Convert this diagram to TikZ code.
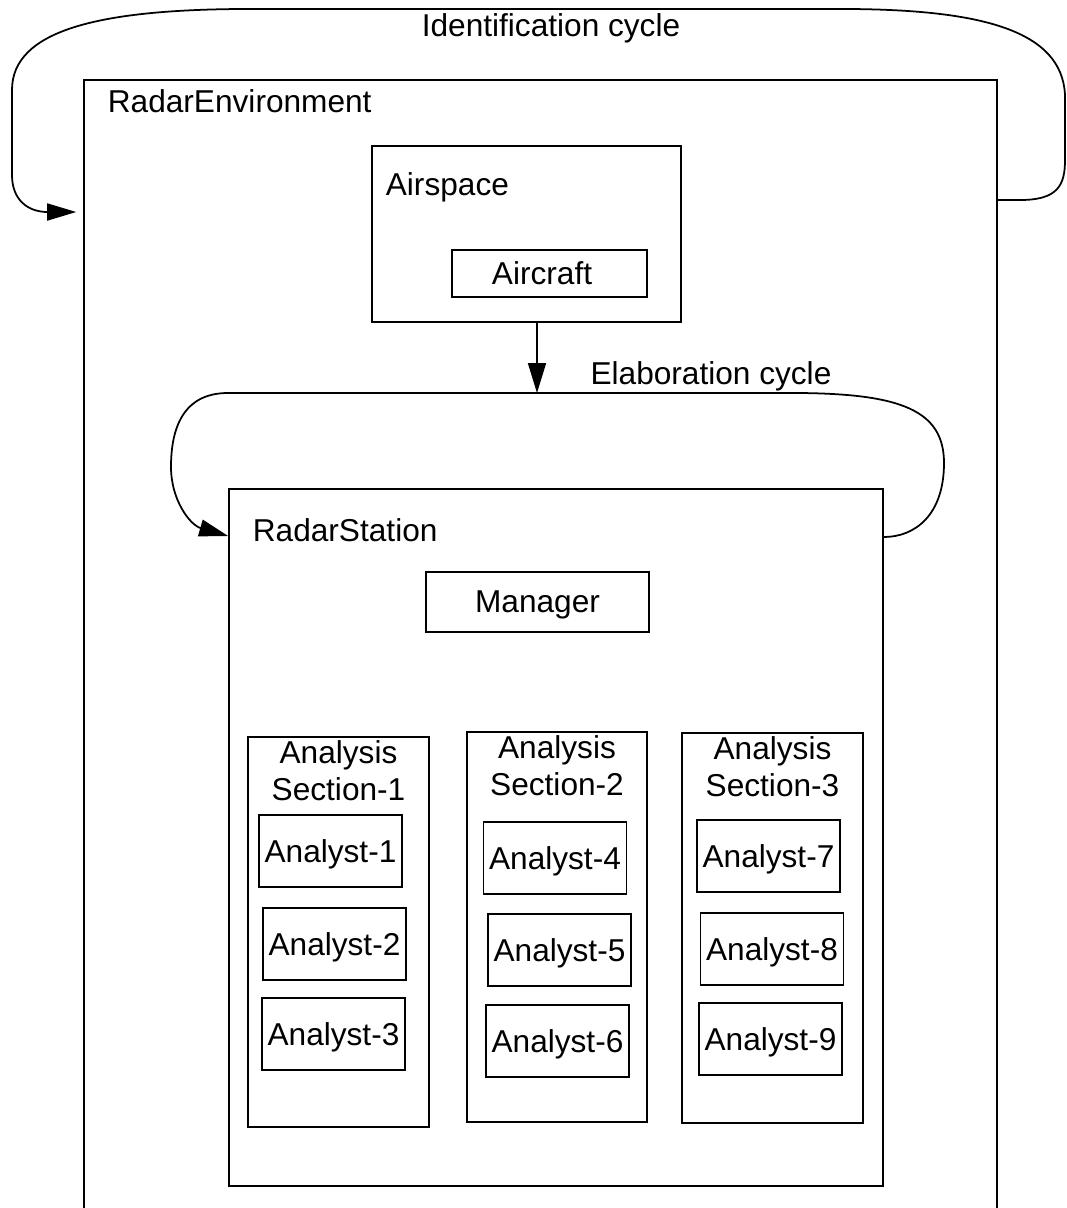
\documentclass[tikz,border=0pt]{standalone}
\usepackage{fontspec}
\setmainfont{Liberation Sans}
\usetikzlibrary{arrows.meta,calc}

\begin{document}
\begin{tikzpicture}
		[x=0.02cm,y=-0.02cm,line width=1pt,
		%Styles
		box/.style={draw,rectangle,inner sep=0pt,text depth=0pt,font=\fontsize{18}{21}\selectfont},
		analyst box/.style={box,minimum width=2.86cm,minimum height=1.44cm},
		section box/.style={box,minimum width=3.61cm,minimum height=7.8cm},
		box title/.style={anchor=west,inner sep=0pt,font=\fontsize{18}{21}\selectfont},
		section title/.style={anchor=north,align=center,inner sep=2pt,font=\fontsize{18}{21}\selectfont},
		cycle text/.style={inner sep=0pt,font=\fontsize{18}{21}\selectfont},
		cycle line/.style={-{Triangle[length=0.58cm,width=0.34cm]}}
		]
		
		%Frame
		\clip (0,0) rectangle (1066,1208);
		
		%The outer boxes
		\node[box,minimum width=18.26cm,minimum height=23.2cm] (env) at (540.5,660) {};
		\node[box title] (envtitle) at (107,101) {RadarEnvironment};
		\node[box,minimum width=6.18cm,minimum height=3.52cm] (airspace) at (526.5,234) {};
		\node[box title] (airtitle) at (385,187) {Airspace};
		\node[box,minimum width=3.9cm,minimum height=0.94cm] (aircraft) at (549.5,273.5) {\hspace*{-0.3cm}Aircraft};
		\node[box,minimum width=13.08cm,minimum height=13.94cm] (station) at (556,837.5) {};
		\node[box title] (stationtitle) at (252,530) {RadarStation};
		\node[box,minimum width=4.46cm,minimum height=1.2cm] (manager) at (537.5,602) {Manager};
		
		%Sections
		\node[section box] (s1) at (338.5,932) {};
		\node[section box] (s2) at (557,927) {};
		\node[section box] (s3) at (772.5,928) {};
		\node[section title] (s1title) at (s1.north) {Analysis\\Section-1};
		\node[section title] (s2title) at (s2.north) {Analysis\\Section-2};
		\node[section title] (s3title) at (s3.north) {Analysis\\Section-3};
		
		%Analysts
		\node[analyst box] (a1) at (330.5,851) {Analyst-1};
		\node[analyst box] (a2) at (334.5,944) {Analyst-2};
		\node[analyst box] (a3) at (333.5,1034) {Analyst-3};
		\node[analyst box] (a4) at (555,858) {Analyst-4};
		\node[analyst box] (a5) at (559.5,950) {Analyst-5};
		\node[analyst box] (a6) at (557.5,1041) {Analyst-6};
		\node[analyst box] (a7) at (768.5,856) {Analyst-7};
		\node[analyst box] (a8) at (772,949) {Analyst-8};
		\node[analyst box] (a9) at (770.5,1039) {Analyst-9};
		
		%Cycles
		\node[cycle text] (idtext) at (551,28) {Identification cycle};
		\node[cycle text] (elabtext) at (711,376) {Elaboration cycle};
		
		\draw[cycle line,shorten >=0.14cm] (env.east |- 0,200) -- (1020,200)
			.. controls (1058,200) and (1065,185) .. (1065,160) -- (1065,95)
			.. controls (1062,30) and (980,10) .. (850,9) -- (240,9)
			.. controls (100,10) and (12,30) .. (12,90) -- (12,175)
			.. controls (12,200) and (28,212) .. (env.west |- 0,212);
		
		\coordinate (elabtop) at (537,393);
		\draw[cycle line] (station.east |- 0,537)
			.. controls (915,537) and (944,515) .. (944,463)
			.. controls (944,410) and (900,394) .. (800,393) -- (228,393)
			.. controls (182,393) and (171,430) .. (171,467)
			.. controls (171,500) and (190,525) .. (station.west |- 0,536);
		
		\draw[-{Triangle[length=0.6cm,width=0.36cm]}] (airspace.south -| elabtop) -- (elabtop);
	\end{tikzpicture}
\end{document}
